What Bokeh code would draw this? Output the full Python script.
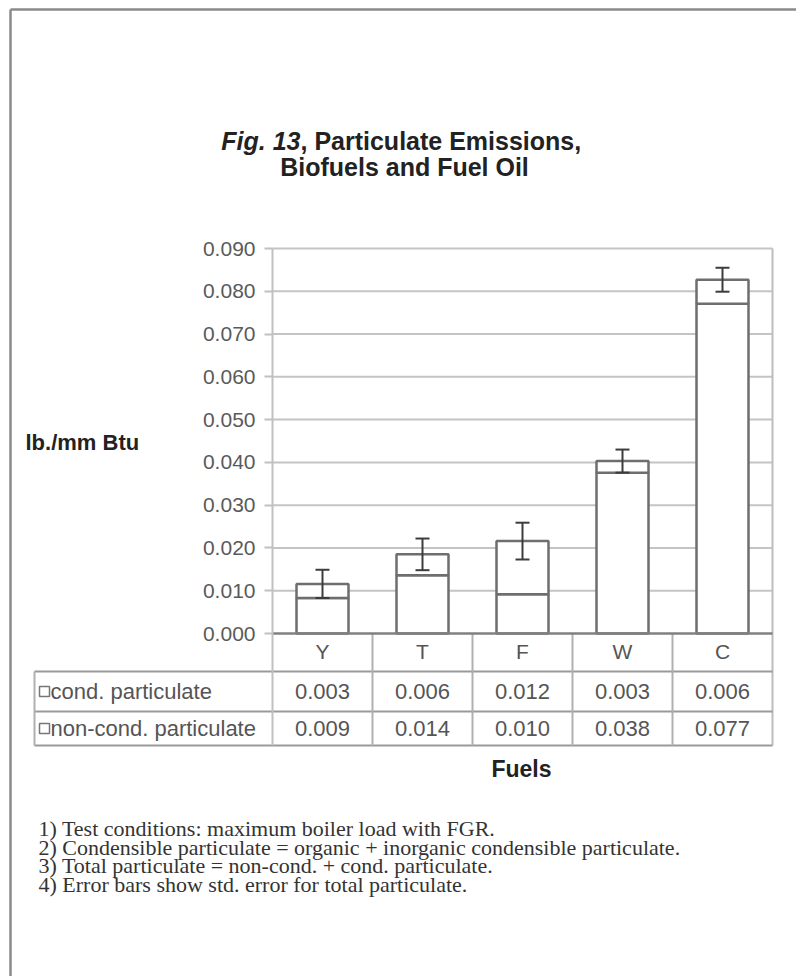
from bokeh.plotting import figure
from bokeh.models import (Range1d, FixedTicker, NumeralTickFormatter, Label,
                          Whisker, ColumnDataSource, TeeHead)
from bokeh.core.properties import value
from bokeh.embed import file_html
from bokeh.resources import INLINE

# ---------------- data ----------------
fuels = ["Y", "T", "F", "W", "C"]
noncond_bar = [0.0083, 0.0136, 0.0092, 0.0376, 0.0771]
cond_bar = [0.0033, 0.0049, 0.0124, 0.0027, 0.0056]
total_err = [0.0033, 0.0037, 0.0043, 0.0027, 0.0028]
cond_table = [0.003, 0.006, 0.012, 0.003, 0.006]
noncond_table = [0.009, 0.014, 0.010, 0.038, 0.077]
y_ticks = [0.000, 0.010, 0.020, 0.030, 0.040, 0.050, 0.060, 0.070, 0.080, 0.090]
row_labels = ["cond. particulate", "non-cond. particulate"]
y_label = "lb./mm Btu"
x_label = "Fuels"
notes = [
    "1) Test conditions: maximum boiler load with FGR.",
    "2) Condensible particulate = organic + inorganic condensible particulate.",
    "3) Total particulate = non-cond. + cond. particulate.",
    "4) Error bars show std. error for total particulate.",
]

# ---------------- layout helpers (page pixels -> data) ----------------
W, H = 796, 976
PAGE = 0                       # page position of the canvas corner
OX, OY = 272.0, 633.0          # page position of (x=0, y=0)
SX = 100.0                     # px per category
SY = 385.0 / 0.09              # px per unit of y


def dx(px):
    return (px - OX) / SX


def dy(py):
    return (OY - py) / SY


SANS = "Liberation Sans"
SERIF = "Liberation Serif"

p = figure(width=W, height=H, x_range=Range1d(dx(PAGE), dx(PAGE + W)),
           y_range=Range1d(dy(PAGE + H), dy(PAGE)), output_backend="svg",
           toolbar_location=None, min_border=0, title=None,
           outline_line_color=None, background_fill_color="white",
           border_fill_color="white")
p.xgrid.visible = False
p.ygrid.visible = False

n = len(fuels)
xs = [i + 0.5 for i in range(n)]
totals = [a + b for a, b in zip(noncond_bar, cond_bar)]

row1, row2, row3 = dy(671), dy(711), dy(745)   # table row boundaries
tab_left = dx(34)

# outer frame (top & left)
p.segment(x0=[dx(10), dx(10)], y0=[dy(9), dy(9)], x1=[dx(10), dx(PAGE + W)],
          y1=[dy(PAGE + H), dy(9)], line_color="#8a8a8a", line_width=2.5)

# grid lines
p.segment(x0=[0] * (len(y_ticks) - 1), x1=[n] * (len(y_ticks) - 1),
          y0=y_ticks[1:], y1=y_ticks[1:], line_color="#c4c4c4", line_width=2)
# right plot edge
p.segment(x0=[n], x1=[n], y0=[row3], y1=[y_ticks[-1]],
          line_color="#bdbdbd", line_width=2)

# bars
src = ColumnDataSource(dict(x=xs, nc=noncond_bar, tot=totals,
                            up=[t + e for t, e in zip(totals, total_err)],
                            lo=[t - e for t, e in zip(totals, total_err)]))
p.vbar(x="x", width=0.52, bottom=0, top="nc", source=src, fill_color="white",
       line_color="#6e6e6e", line_width=2.5)
p.vbar(x="x", width=0.52, bottom="nc", top="tot", source=src, fill_color="white",
       line_color="#6e6e6e", line_width=2.5)

wh = Whisker(base="x", upper="up", lower="lo", source=src, line_color="#3c3c3c",
             line_width=2, level="overlay",
             upper_head=TeeHead(size=14, line_color="#3c3c3c", line_width=2),
             lower_head=TeeHead(size=14, line_color="#3c3c3c", line_width=2))
p.add_layout(wh)

# table lines
p.segment(x0=[tab_left] * 3, x1=[n] * 3, y0=[row1, row2, row3],
          y1=[row1, row2, row3], line_color="#9a9a9a", line_width=2)
p.segment(x0=list(range(1, n)), x1=list(range(1, n)), y0=[row3] * (n - 1),
          y1=[0] * (n - 1), line_color="#b0b0b0", line_width=2)
p.segment(x0=[tab_left], x1=[tab_left], y0=[row3], y1=[row1],
          line_color="#b0b0b0", line_width=2)

# table contents
mid1, mid2 = (row1 + row2) / 2, (row2 + row3) / 2
p.text(x=xs, y=[mid1] * n, text=["%.3f" % v for v in cond_table],
       text_font=value(SANS), text_font_size="22px", text_color="#555555",
       text_align="center", text_baseline="middle")
p.text(x=xs, y=[mid2] * n, text=["%.3f" % v for v in noncond_table],
       text_font=value(SANS), text_font_size="22px", text_color="#555555",
       text_align="center", text_baseline="middle")
p.scatter(x=[dx(44)] * 2, y=[mid1, mid2], marker="square", size=10,
          fill_color="white", line_color="#777777", line_width=1.5)
p.text(x=[dx(50)] * 2, y=[mid1, mid2], text=row_labels,
       text_font=value(SANS), text_font_size="22px", text_color="#555555",
       text_align="left", text_baseline="middle")

# axes
ya = p.yaxis[0]
ya.fixed_location = 0
ya.ticker = FixedTicker(ticks=y_ticks)
ya.formatter = NumeralTickFormatter(format="0.000")
ya.bounds = (row3, y_ticks[-1])
ya.axis_line_color = "#c0c0c0"
ya.axis_line_width = 2
ya.major_tick_line_color = "#c0c0c0"
ya.major_tick_line_width = 2
ya.major_tick_out = 8
ya.major_tick_in = 0
ya.minor_tick_line_color = None
ya.major_label_standoff = 9
ya.major_label_text_font = SANS
ya.major_label_text_font_size = "21px"
ya.major_label_text_color = "#5a5a5a"

xa = p.xaxis[0]
xa.fixed_location = 0
xa.ticker = FixedTicker(ticks=xs)
xa.major_label_overrides = {x: f for x, f in zip(xs, fuels)}
xa.bounds = (0, n)
xa.axis_line_color = "#808080"
xa.axis_line_width = 2.5
xa.major_tick_line_color = None
xa.minor_tick_line_color = None
xa.major_label_standoff = 0
xa.major_label_text_font = SANS
xa.major_label_text_font_size = "21px"
xa.major_label_text_color = "#555555"

# titles and labels
p.add_layout(Label(x=dx(300), y=dy(140), text="Fig. 13", text_font=SANS,
                   text_font_size="25px", text_font_style="bold italic",
                   text_color="#222222", text_align="right", text_baseline="middle"))
p.add_layout(Label(x=dx(300), y=dy(140), text=", Particulate Emissions,", text_font=SANS,
                   text_font_size="25px", text_font_style="bold",
                   text_color="#222222", text_align="left", text_baseline="middle"))
p.add_layout(Label(x=dx(404), y=dy(166), text="Biofuels and Fuel Oil", text_font=SANS,
                   text_font_size="25px", text_font_style="bold",
                   text_color="#222222", text_align="center", text_baseline="middle"))
p.add_layout(Label(x=dx(25), y=dy(442), text=y_label, text_font=SANS,
                   text_font_size="22px", text_font_style="bold",
                   text_color="#222222", text_align="left", text_baseline="middle"))
p.add_layout(Label(x=dx(521), y=dy(768), text=x_label, text_font=SANS,
                   text_font_size="23px", text_font_style="bold",
                   text_color="#222222", text_align="center", text_baseline="middle"))
for i, t in enumerate(notes):
    p.add_layout(Label(x=dx(38), y=dy(828 + 18.5 * i), text=t, text_font=SERIF,
                       text_font_size="22px", text_color="#333333",
                       text_align="left", text_baseline="middle"))

open("out.html", "w").write(file_html(p, INLINE))
